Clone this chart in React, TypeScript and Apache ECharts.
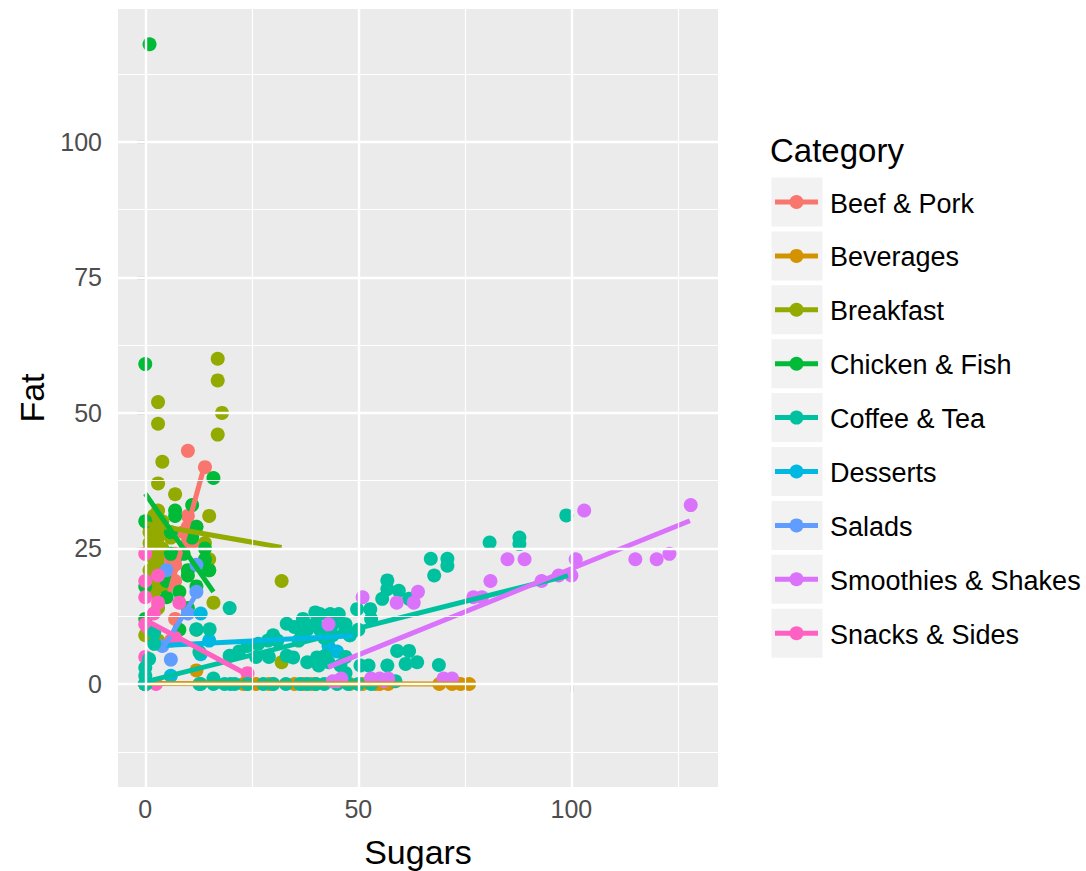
import React, { useEffect, useRef } from "react";
import * as echarts from "echarts";

const CATEGORIES = [
  "Beef & Pork",
  "Beverages",
  "Breakfast",
  "Chicken & Fish",
  "Coffee & Tea",
  "Desserts",
  "Salads",
  "Smoothies & Shakes",
  "Snacks & Sides",
];
const COLORS = ["#F8766D", "#D39200", "#93AA00", "#00BA38", "#00C19F", "#00B9E3", "#619CFF", "#DB72FB", "#FF61C3"];

// [Sugars, Fat]
const breakfast = [
  [17, 60], [17, 56], [3, 52], [18, 50], [3, 48], [17, 46], [4, 41], [3, 37], [7, 35], [15, 31],
  [1, 28], [3, 28], [1, 26], [2, 24], [3, 23], [4, 25], [3, 22], [2, 20], [5, 20], [15, 21],
  [16, 15], [32, 19], [32, 4], [0, 9], [3, 14], [2, 17], [6, 27], [2, 27], [3, 27], [2, 23],
  [2, 31], [3, 32], [4, 30], [1, 21], [3, 19], [4, 18], [15, 23], [14, 26], [1, 29], [2, 25],
  [3, 8], [5, 28],
];
const beefPork = [
  [6, 8], [7, 12], [7, 19], [7, 22], [7, 23], [6, 23], [7, 24], [9, 28], [10, 26], [10, 29],
  [12, 29], [11, 26], [10, 43], [14, 40], [10, 31],
];
const chickenFish = [
  [1, 118], [0, 59], [0, 30], [0, 18], [0, 12], [16, 38], [11, 33], [7, 32], [7, 31], [12, 29],
  [6, 24], [14, 25], [14, 23], [10, 20], [5, 16], [8, 10], [12, 10], [11, 27], [13, 22], [9, 24],
  [5, 19], [8, 17], [6, 28], [12, 18], [15, 21], [10, 14], [10, 21],
];
const salads = [[5, 21], [12, 22], [6, 4.5], [4, 7], [12, 17], [10, 13]];
const snacksSides = [
  [0, 24], [0, 19], [0, 11], [0, 5], [3, 20], [3, 15], [8, 15], [2, 13], [7, 8.5], [2.5, 0],
  [24, 2], [0, 16], [0.5, 10.5],
];
const desserts = [[13, 13], [15, 8], [13, 5.5], [6, 1.5], [45, 6], [48, 9], [43, 7]];
const beverages = [
  [0, 0], [0, 0], [0, 0], [0, 0], [0, 0], [0, 0], [0, 0], [12, 2.5], [23, 0], [24, 0],
  [26, 0], [29, 0], [30, 0], [35, 0], [37, 0], [39, 0], [40, 0], [48, 0], [51, 0], [54, 0],
  [55, 0], [57, 0], [69, 0], [72, 0], [74, 0], [76, 0], [0, 0],
];
const coffeeTea = [
  [0, 0], [0, 0], [0, 0], [0, 0], [13, 0], [16, 0], [18.6, 0], [21, 0], [27.7, 0], [30, 0],
  [33, 0], [36.3, 0], [38, 0], [40, 0], [45, 0], [47.6, 0], [50, 0], [58.7, 0.5], [24, 0], [42, 0],
  [98.8, 31.1], [87.8, 27], [87.8, 25.8], [80.8, 26.1], [67, 23.1], [70.9, 23.1], [70.9, 21.8], [67.8, 20],
  [56.8, 19.1], [56.8, 17.5], [59.5, 17.2], [55.6, 15.7], [61.9, 15.7], [49.7, 13.8], [52.8, 13.8],
  [41, 12.9], [43.4, 12.9], [45.4, 12.9], [39.9, 13.2], [33.2, 11.1], [39.9, 11.1], [36.7, 9.2],
  [46.9, 9.8], [38, 10], [41, 10], [44, 9], [47, 11], [48, 9], [35, 10.5], [26.5, 7.4], [28.8, 8],
  [31, 8], [33.2, 5.2], [34.7, 4.9], [40.3, 4.9], [42.2, 5.2], [40.7, 3.4], [43, 4], [45.8, 3.4],
  [50.5, 3.4], [52.4, 3.4], [56.8, 3.4], [59.1, 6.1], [61.9, 6.1], [61.1, 3.7], [63.8, 4], [68.9, 3.5],
  [19.8, 14], [19.8, 5.2], [15.1, 10.1], [12, 10.1], [2.1, 9.5], [2.1, 7.4], [0.9, 4.6], [12.7, 5.9],
  [47, 5], [22, 6], [24, 7], [37, 12], [44, 11], [42, 8.5], [36, 8], [30, 9], [50, 10], [53, 12],
  [12.7, 0], [0, 1.5], [0, 3], [16, 1], [20, 0], [26, 5], [29, 5], [38, 4], [47, 2], [53, 0],
];
const smoothiesShakes = [
  [43, 11], [51, 16], [59, 15], [63, 15], [64, 17], [77, 16], [79, 16], [81, 19], [85, 23], [89, 23],
  [93, 19], [97, 20], [100, 20], [101, 23], [103, 32], [115, 23], [120, 23], [123, 24], [128, 33],
  [44, 0.5], [46, 1], [53, 1], [55, 1], [57, 1], [70, 1], [72, 1], [45, 0.5], [56, 0.5],
];

// linear-fit segments per category: [[x1, y1], [x2, y2]]
const fitBeefPork = [[5.7, 17], [13.9, 40.3]];
const fitBeverages = [[0, 0.1], [76, 0]];
const fitBreakfast = [[0, 29.6], [32, 25.2]];
const fitChickenFish = [[0, 35.1], [16, 17]];
const fitCoffeeTea = [[0, 0.4], [99.2, 20]];
const fitDesserts = [[4, 7.1], [48.9, 8.9]];
const fitSalads = [[4, 6.4], [12, 16.6]];
const fitSmoothiesShakes = [[42.9, 3.1], [127.8, 30.1]];
const fitSnacksSides = [[0, 11.8], [23.8, 1.8]];

const X_TICKS = [0, 50, 100];
const X_MINOR = [25, 75, 125];
const Y_TICKS = [0, 25, 50, 75, 100];
const Y_MINOR = [-12.5, 12.5, 37.5, 62.5, 87.5, 112.5];

const POINTS: Record<string, number[][]> = {
  "Beef & Pork": beefPork,
  Beverages: beverages,
  Breakfast: breakfast,
  "Chicken & Fish": chickenFish,
  "Coffee & Tea": coffeeTea,
  Desserts: desserts,
  Salads: salads,
  "Smoothies & Shakes": smoothiesShakes,
  "Snacks & Sides": snacksSides,
};
const FITS: Record<string, number[][]> = {
  "Beef & Pork": fitBeefPork,
  Beverages: fitBeverages,
  Breakfast: fitBreakfast,
  "Chicken & Fish": fitChickenFish,
  "Coffee & Tea": fitCoffeeTea,
  Desserts: fitDesserts,
  Salads: fitSalads,
  "Smoothies & Shakes": fitSmoothiesShakes,
  "Snacks & Sides": fitSnacksSides,
};
// row order of the data (draw order of points)
const DRAW_ORDER = [
  "Breakfast", "Beef & Pork", "Chicken & Fish", "Salads", "Snacks & Sides",
  "Desserts", "Beverages", "Coffee & Tea", "Smoothies & Shakes",
];

const FONT = "'Liberation Sans', Arial, Helvetica, sans-serif";

export default function App() {
  const ref = useRef<HTMLDivElement>(null);
  useEffect(() => {
    document.body.style.margin = "0";
    const chart = echarts.init(ref.current!, null, { renderer: "svg" });
    const colorOf = (c: string) => COLORS[CATEGORIES.indexOf(c)];

    const gridSeries: any[] = [
      {
        type: "scatter",
        data: [],
        z: 1,
        silent: true,
        markLine: {
          silent: true,
          symbol: "none",
          animation: false,
          label: { show: false },
          lineStyle: { color: "#FFFFFF", width: 1.2, type: "solid" },
          data: [...X_MINOR.map((v) => ({ xAxis: v })), ...Y_MINOR.map((v) => ({ yAxis: v }))],
        },
      },
      {
        type: "scatter",
        data: [],
        z: 1,
        silent: true,
        markLine: {
          silent: true,
          symbol: "none",
          animation: false,
          label: { show: false },
          lineStyle: { color: "#FFFFFF", width: 2.4, type: "solid" },
          data: [...X_TICKS.map((v) => ({ xAxis: v })), ...Y_TICKS.map((v) => ({ yAxis: v }))],
        },
      },
    ];

    const pointSeries = DRAW_ORDER.map((c) => ({
      type: "scatter",
      name: c,
      data: POINTS[c],
      symbol: "circle",
      symbolSize: 14,
      z: 2,
      itemStyle: { color: colorOf(c), opacity: 1 },
    }));

    const lineSeries = CATEGORIES.map((c) => ({
      type: "line",
      name: c + " fit",
      data: FITS[c],
      showSymbol: false,
      symbol: "none",
      z: 3,
      lineStyle: { color: colorOf(c), width: 5, cap: "butt" },
    }));

    const keyTop = 202;
    const step = 53.9;
    const legendGraphics: any[] = [
      {
        type: "text",
        left: 770,
        top: 134,
        style: { text: "Category", font: `33px ${FONT}`, fill: "#000000" },
      },
    ];
    CATEGORIES.forEach((c, i) => {
      const cy = keyTop + i * step;
      legendGraphics.push(
        { type: "rect", shape: { x: 771.5, y: cy - 24.5, width: 51, height: 49 }, style: { fill: "#F2F2F2" } },
        { type: "line", shape: { x1: 775, y1: cy, x2: 818, y2: cy }, style: { stroke: COLORS[i], lineWidth: 5 } },
        { type: "circle", shape: { cx: 796.5, cy, r: 7 }, style: { fill: COLORS[i] } },
        {
          type: "text",
          x: 830,
          y: cy + 1.5,
          style: { text: c, font: `27px ${FONT}`, fill: "#000000", verticalAlign: "middle", align: "left" },
        }
      );
    });

    chart.setOption({
      animation: false,
      textStyle: { fontFamily: FONT },
      grid: {
        left: 118,
        top: 9,
        width: 600,
        height: 778,
        show: true,
        backgroundColor: "#EBEBEB",
        borderWidth: 0,
        containLabel: false,
        outerBoundsMode: "none",
      },
      xAxis: {
        type: "value",
        min: -6.4,
        max: 134.4,
        name: "Sugars",
        nameLocation: "middle",
        nameGap: 48,
        nameTextStyle: { fontSize: 34, color: "#000000", fontFamily: FONT },
        axisLine: { show: false },
        axisTick: { show: true, length: 8, customValues: X_TICKS, lineStyle: { color: "#333333", width: 2.2 } },
        axisLabel: { show: true, customValues: X_TICKS, margin: 9, fontSize: 25, color: "#4D4D4D", fontFamily: FONT },
        splitLine: { show: false },
      },
      yAxis: {
        type: "value",
        min: -19,
        max: 124.5,
        name: "Fat",
        nameLocation: "middle",
        nameGap: 64,
        nameRotate: 90,
        nameTextStyle: { fontSize: 34, color: "#000000", fontFamily: FONT },
        axisLine: { show: false },
        axisTick: { show: true, length: 8, customValues: Y_TICKS, lineStyle: { color: "#333333", width: 2.2 } },
        axisLabel: { show: true, customValues: Y_TICKS, margin: 16, fontSize: 25, color: "#4D4D4D", fontFamily: FONT },
        splitLine: { show: false },
      },
      graphic: legendGraphics,
      series: [...gridSeries, ...pointSeries, ...lineSeries],
    });
    return () => chart.dispose();
  }, []);
  return <div ref={ref} style={{ width: 1086, height: 871 }} />;
}
